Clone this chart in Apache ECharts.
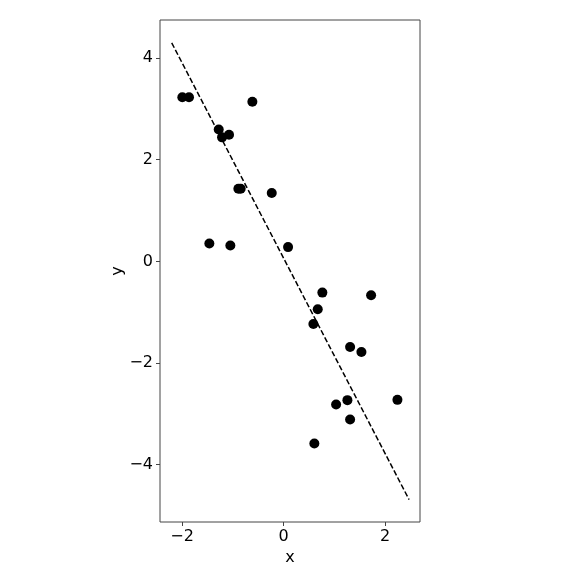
<!DOCTYPE html>
<html>
<head>
<meta charset="utf-8">
<script src="https://cdn.jsdelivr.net/npm/echarts@6/dist/echarts.min.js"></script>
<style>
html, body { margin: 0; padding: 0; background: #fff; }
#chart { width: 581px; height: 581px; }
</style>
</head>
<body>
<div id="chart"></div>
<script>
// scatter points
var pointsX = [-1.996, -1.864, -0.615, -1.278, -1.213, -1.075, -0.891, -0.845, -0.233, -1.463, -1.049, 0.089,
  0.765, 1.726, 0.674, 0.588, 1.312, 1.535, 1.259, 1.036, 2.245, 1.312, 0.607];
var pointsY = [3.23, 3.23, 3.14, 2.594, 2.44, 2.49, 1.43, 1.43, 1.345, 0.351, 0.312, 0.28,
  -0.615, -0.667, -0.943, -1.233, -1.686, -1.785, -2.732, -2.817, -2.726, -3.113, -3.586];
// dashed fit line ends
var lineX = [-2.205, 2.475];
var lineY = [4.30, -4.69];
var xTicks = [-2, 0, 2];
var yTicks = [-4, -2, 0, 2, 4];

var chart = echarts.init(document.getElementById('chart'));

function minus(v) {
  return String(v).replace('-', '\u2212');
}

var option = {
  animation: false,
  grid: {
    left: 160,
    right: 161,
    top: 20,
    bottom: 59,
    show: true,
    borderColor: '#444',
    borderWidth: 1,
    backgroundColor: '#fff'
  },
  xAxis: {
    type: 'value',
    min: -2.436,
    max: 2.69,
    name: 'x',
    nameLocation: 'middle',
    nameGap: 26,
    nameTextStyle: { fontFamily: 'DejaVu Sans', fontSize: 16, color: '#000' },
    axisLine: { show: false, onZero: false },
    splitLine: { show: false },
    axisTick: { show: true, length: 4, lineStyle: { color: '#444' }, customValues: xTicks },
    axisLabel: {
      fontFamily: 'DejaVu Sans', fontSize: 16, color: '#000', margin: 7,
      customValues: xTicks,
      formatter: minus
    }
  },
  yAxis: {
    type: 'value',
    min: -5.13,
    max: 4.75,
    name: 'y',
    nameLocation: 'middle',
    nameGap: 34,
    nameTextStyle: { fontFamily: 'DejaVu Sans', fontSize: 16, color: '#000' },
    axisLine: { show: false, onZero: false },
    splitLine: { show: false },
    axisTick: { show: true, length: 4, lineStyle: { color: '#444' }, customValues: yTicks },
    axisLabel: {
      fontFamily: 'DejaVu Sans', fontSize: 16, color: '#000', margin: 7,
      customValues: yTicks,
      formatter: minus
    }
  },
  series: [
    {
      type: 'line',
      data: lineX.map(function (x, i) { return [x, lineY[i]]; }),
      symbol: 'none',
      lineStyle: { color: '#000', width: 1.5, type: [5.5, 2.4] },
      z: 2
    },
    {
      type: 'scatter',
      data: pointsX.map(function (x, i) { return [x, pointsY[i]]; }),
      symbolSize: 10,
      itemStyle: { color: '#000', opacity: 1 },
      z: 3
    }
  ]
};

chart.setOption(option);
</script>
</body>
</html>
